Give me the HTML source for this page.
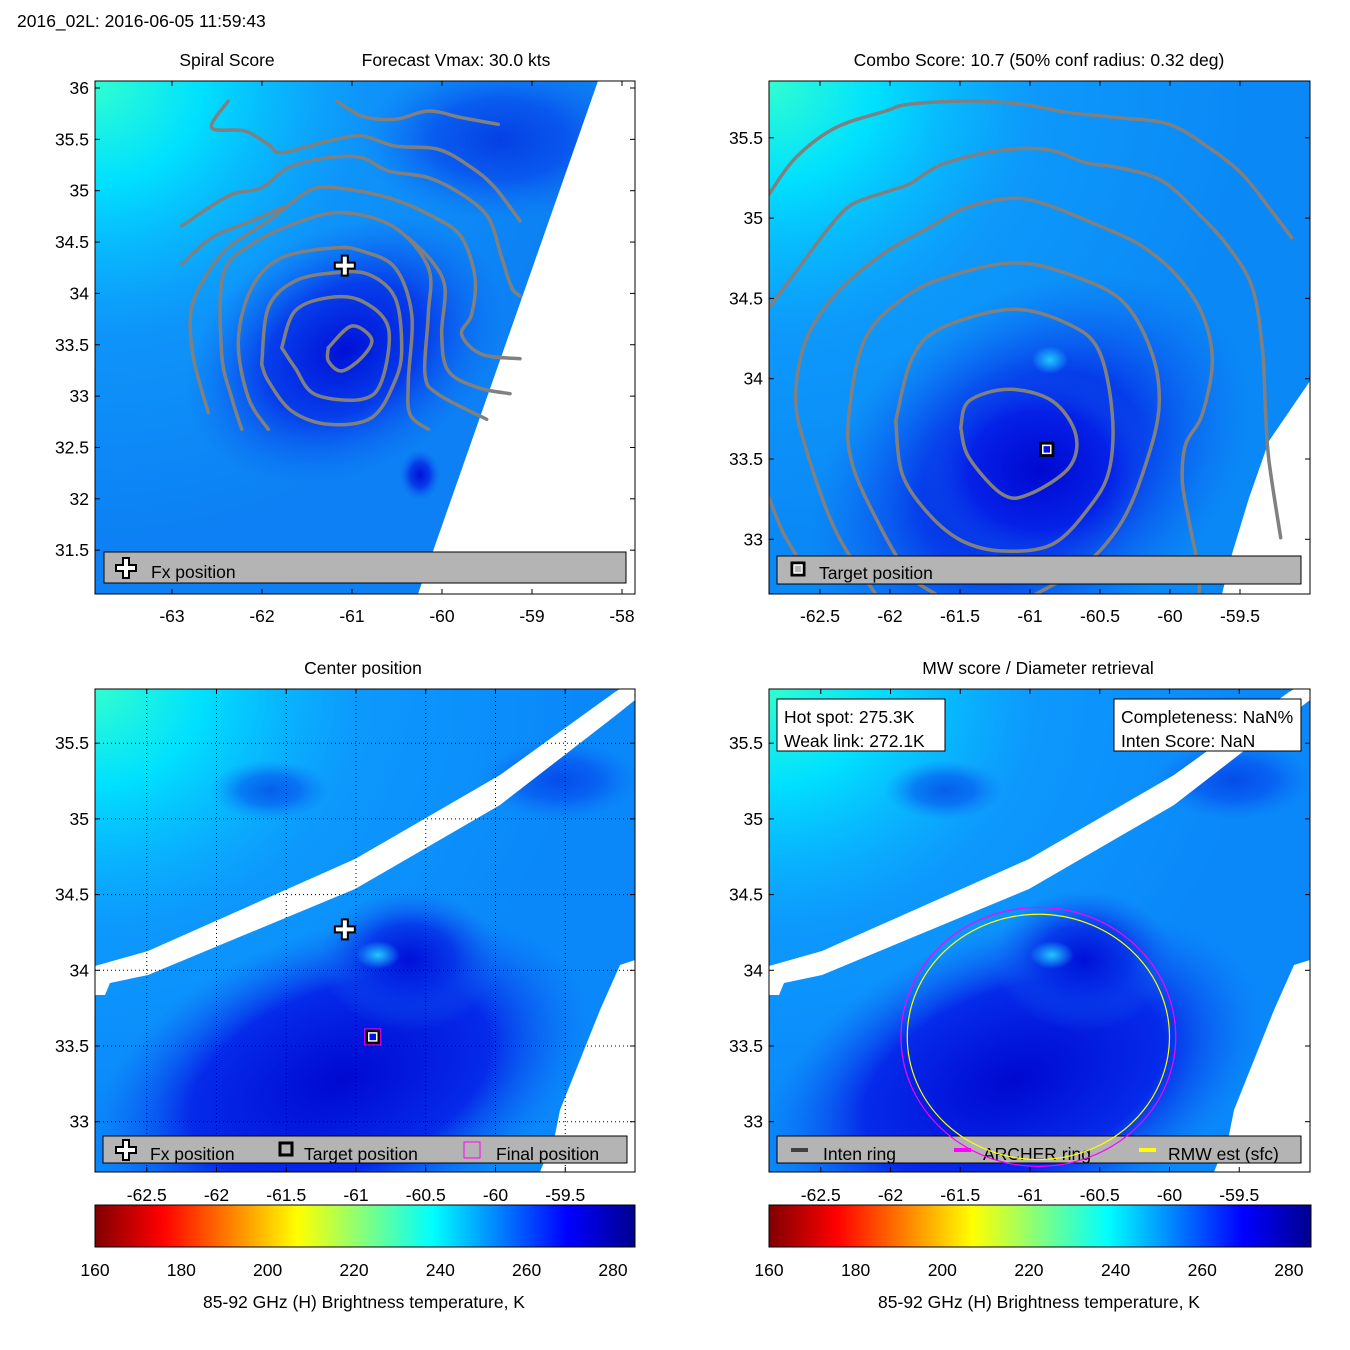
<!DOCTYPE html>
<html><head><meta charset="utf-8"><style>
body{margin:0;background:#fff;}
svg{display:block;font-family:"Liberation Sans",sans-serif;}
text{font-size:17.5px;fill:#000;}
</style></head><body>
<svg id="s" width="1350" height="1350" viewBox="0 0 1350 1350">
<defs>
<linearGradient id="jet" x1="0" x2="1" y1="0" y2="0">
<stop offset="0" stop-color="#800000"/><stop offset="0.125" stop-color="#ff0000"/><stop offset="0.375" stop-color="#ffff00"/><stop offset="0.5" stop-color="#80ff80"/><stop offset="0.625" stop-color="#00ffff"/><stop offset="0.875" stop-color="#0000ff"/><stop offset="1" stop-color="#00008f"/>
</linearGradient>
<radialGradient id="tl1" cx="0" cy="0" r="1" gradientUnits="objectBoundingBox"><stop offset="0" stop-color="#30ffd0"/><stop offset="0.2" stop-color="#00e0ff"/><stop offset="0.5" stop-color="#10a8ff" stop-opacity="0.5"/><stop offset="0.9" stop-color="#10a8ff" stop-opacity="0"/></radialGradient>
<radialGradient id="dk1"><stop offset="0" stop-color="#0010d8"/><stop offset="0.5" stop-color="#0530e8" stop-opacity="0.85"/><stop offset="1" stop-color="#1060f0" stop-opacity="0"/></radialGradient>
<radialGradient id="dk3"><stop offset="0" stop-color="#0008d0"/><stop offset="0.6" stop-color="#0520e8" stop-opacity="0.9"/><stop offset="1" stop-color="#1060f0" stop-opacity="0"/></radialGradient>
<radialGradient id="cy"><stop offset="0" stop-color="#20c8ff"/><stop offset="1" stop-color="#20c8ff" stop-opacity="0"/></radialGradient>
<clipPath id="c1"><rect x="95" y="81" width="540" height="513"/></clipPath>
<clipPath id="c2"><rect x="769" y="81" width="541" height="513"/></clipPath>
<clipPath id="c3"><rect x="95" y="689" width="540" height="483"/></clipPath>
<clipPath id="c4"><rect x="769" y="689" width="541" height="483"/></clipPath>
</defs>
<text x="17" y="27">2016_02L: 2016-06-05 11:59:43</text>

<g clip-path="url(#c1)">
<rect x="95" y="81" width="540" height="513" fill="#0c80f4"/>
<rect x="95" y="81" width="540" height="513" fill="url(#tl1)"/>
<ellipse cx="500" cy="140" rx="140" ry="80" fill="url(#dk1)" opacity="0.6"/>
<ellipse cx="345" cy="350" rx="170" ry="120" fill="url(#dk1)" transform="rotate(-30 345 350)"/>
<ellipse cx="420" cy="475" rx="20" ry="25" fill="url(#dk1)"/>
<polygon points="598,81 635,81 635,594 418,594 432,554" fill="#fff"/>
<g id="cont1" fill="none" stroke="#808080" stroke-width="3.5" stroke-linejoin="round" stroke-linecap="round"></g>
</g>
<rect x="95" y="81" width="540" height="513" fill="none" stroke="#000" stroke-width="1"/>
<g>
<rect x="104" y="552" width="522" height="31" fill="#b4b4b4" stroke="#000"/>
<text x="151" y="578">Fx position</text>
</g>
<text x="227" y="66" text-anchor="middle">Spiral Score</text>
<text x="456" y="66" text-anchor="middle">Forecast Vmax: 30.0 kts</text>

<g clip-path="url(#c2)">
<rect x="769" y="81" width="541" height="513" fill="#0a88f6"/>
<rect x="769" y="81" width="541" height="513" fill="url(#tl1)"/>
<ellipse cx="1030" cy="470" rx="240" ry="170" fill="url(#dk1)" transform="rotate(-35 1030 470)"/>
<ellipse cx="1040" cy="470" rx="120" ry="100" fill="url(#dk3)"/>
<ellipse cx="1050" cy="360" rx="18" ry="14" fill="url(#cy)"/>
<polygon points="1310,381 1269,441 1249,498 1232,554 1222,594 1310,594" fill="#fff"/>
<g id="cont2" fill="none" stroke="#808080" stroke-width="3.5" stroke-linejoin="round" stroke-linecap="round"></g>
</g>
<rect x="769" y="81" width="541" height="513" fill="none" stroke="#000"/>
<g>
<rect x="777" y="556" width="524" height="28" fill="#b4b4b4" stroke="#000"/>
<text x="819" y="579">Target position</text>
</g>
<text x="1039" y="66" text-anchor="middle">Combo Score: 10.7  (50% conf radius: 0.32 deg)</text>

<g id="bg3" clip-path="url(#c3)">
<rect x="95" y="689" width="540" height="483" fill="#0a88fa"/>
<rect x="95" y="689" width="540" height="483" fill="url(#tl1)"/>
<ellipse cx="340" cy="1080" rx="260" ry="150" fill="url(#dk3)" transform="rotate(-20 340 1080)"/>
<ellipse cx="410" cy="960" rx="90" ry="70" fill="url(#dk1)"/>
<ellipse cx="270" cy="790" rx="60" ry="30" fill="url(#dk1)" opacity="0.5"/>
<ellipse cx="560" cy="780" rx="80" ry="40" fill="url(#dk1)" opacity="0.5"/>
<ellipse cx="378" cy="955" rx="22" ry="14" fill="url(#cy)"/>
<polygon points="95,966 148,951 355,859 500,775 615,692 635,680 635,700 615,716 500,805 355,889 148,975 110,983 105,995 95,995" fill="#fff"/>
<polygon points="635,960 620,965 600,1010 580,1060 560,1110 555,1135 540,1172 635,1172" fill="#fff"/>
</g>
<g id="bg4" clip-path="url(#c4)">
<rect x="769" y="689" width="541" height="483" fill="#0a88fa"/>
<rect x="769" y="689" width="541" height="483" fill="url(#tl1)"/>
<ellipse cx="1014" cy="1080" rx="260" ry="150" fill="url(#dk3)" transform="rotate(-20 1014 1080)"/>
<ellipse cx="1084" cy="960" rx="90" ry="70" fill="url(#dk1)"/>
<ellipse cx="944" cy="790" rx="60" ry="30" fill="url(#dk1)" opacity="0.5"/>
<ellipse cx="1234" cy="780" rx="80" ry="40" fill="url(#dk1)" opacity="0.5"/>
<ellipse cx="1052" cy="955" rx="22" ry="14" fill="url(#cy)"/>
<polygon points="769,966 822,951 1029,859 1174,775 1289,692 1310,680 1310,700 1289,716 1174,805 1029,889 822,975 784,983 779,995 769,995" fill="#fff"/>
<polygon points="1310,960 1294,965 1274,1010 1254,1060 1234,1110 1229,1135 1214,1172 1310,1172" fill="#fff"/>
</g>
<g id="grid3" clip-path="url(#c3)" stroke="#000" stroke-width="1" stroke-dasharray="1,3"></g>
<rect x="95" y="689" width="540" height="483" fill="none" stroke="#000"/>
<rect x="769" y="689" width="541" height="483" fill="none" stroke="#000"/>
<text x="363" y="674" text-anchor="middle">Center position</text>
<text x="1038" y="674" text-anchor="middle">MW score / Diameter retrieval</text>

<g>
<rect x="103" y="1136" width="524" height="27" fill="#b4b4b4" stroke="#000"/>
<text x="150" y="1160">Fx position</text>
<rect x="280" y="1143" width="12" height="12" fill="#b4b4b4" stroke="#000" stroke-width="3"/>
<text x="304" y="1160">Target position</text>
<rect x="464" y="1142" width="16" height="16" fill="none" stroke="#ff00ff" stroke-width="1"/>
<text x="496" y="1160">Final position</text>
</g>
<g>
<rect x="777" y="1136" width="524" height="27" fill="#b4b4b4" stroke="#000"/>
<rect x="791" y="1148" width="17" height="4" fill="#404040"/>
<text x="823" y="1160">Inten ring</text>
<rect x="954" y="1148" width="17" height="4" fill="#ff00ff"/>
<text x="983" y="1160">ARCHER ring</text>
<rect x="1139" y="1148" width="17" height="4" fill="#ffff00"/>
<text x="1168" y="1160">RMW est (sfc)</text>
</g>
<g id="rings" fill="none"></g>
<g>
<rect x="777" y="699" width="168" height="52" fill="#fff" stroke="#000"/>
<text x="784" y="723">Hot spot: 275.3K</text>
<text x="784" y="747">Weak link: 272.1K</text>
</g>
<g>
<rect x="1114" y="699" width="187" height="52" fill="#fff" stroke="#000"/>
<text x="1121" y="723">Completeness: NaN%</text>
<text x="1121" y="747">Inten Score: NaN</text>
</g>

<g id="markers"></g>
<g id="ticks" stroke="#000" stroke-width="1"></g>
<g id="labels"></g>

<rect x="95" y="1205" width="540" height="42" fill="url(#jet)" stroke="#000"/>
<rect x="769" y="1205" width="542" height="42" fill="url(#jet)" stroke="#000"/>
<text x="364" y="1308" text-anchor="middle">85-92 GHz (H) Brightness temperature, K</text>
<text x="1039" y="1308" text-anchor="middle">85-92 GHz (H) Brightness temperature, K</text>
</svg>
<script>
const NS='http://www.w3.org/2000/svg';
const p1xTicks=[-63,-62,-61,-60,-59,-58];
const p1yTicks=[36,35.5,35,34.5,34,33.5,33,32.5,32,31.5];
const p2xTicks=[-62.5,-62,-61.5,-61,-60.5,-60,-59.5];
const p2yTicks=[35.5,35,34.5,34,33.5,33];
const p34yTicks=[35.5,35,34.5,34,33.5,33];
const cbTicks=[160,180,200,220,240,260,280];
const cbRange=[160,285.1];
const fxPos=[-61.08,34.27];
const targetPos=[-60.88,33.56];
const finalPos=[-60.88,33.56];
const ringCenter=[-60.94,33.56];
const archerRadius=[0.985,0.855];
const rmwRadius=[0.94,0.81];
const hotWeak=[275.3,272.1];

function mk(tag,attrs,parent){const e=document.createElementNS(NS,tag);for(const k in attrs)e.setAttribute(k,attrs[k]);(parent||document.getElementById('s')).appendChild(e);return e;}
const P1={x:v=>172+(v+63)*90,y:v=>88+(36-v)*102.7,x0:95,x1:635,y0:81,y1:594};
const P2={x:v=>1030+(v+61)*140,y:v=>459-(v-33.5)*160.6,x0:769,x1:1310,y0:81,y1:594};
const P3={x:v=>356+(v+61)*139.5,y:v=>1046-(v-33.5)*151.4,x0:95,x1:635,y0:689,y1:1172};
const P4={x:v=>1030+(v+61)*139.5,y:v=>1046-(v-33.5)*151.4,x0:769,x1:1310,y0:689,y1:1172};
const tk=document.getElementById('ticks'),lb=document.getElementById('labels');
function axes(P,xt,yt,xlabY){
  xt.forEach(v=>{const x=P.x(v);
    let l=mk('line',{x1:x,x2:x,y1:P.y1,y2:P.y1-5},tk);
    mk('line',{x1:x,x2:x,y1:P.y0,y2:P.y0+5},tk);
    const t=mk('text',{x:x,y:xlabY,'text-anchor':'middle'},lb);t.textContent=v;
    });
  yt.forEach(v=>{const y=P.y(v);
    mk('line',{x1:P.x0,x2:P.x0+5,y1:y,y2:y},tk);mk('line',{x1:P.x1,x2:P.x1-5,y1:y,y2:y},tk);
    const t=mk('text',{x:P.x0-6,y:y+6,'text-anchor':'end'},lb);t.textContent=v;
    });
}
axes(P1,p1xTicks,p1yTicks,622);
axes(P2,p2xTicks,p2yTicks,622);
axes(P3,p2xTicks,p34yTicks,1201);
axes(P4,p2xTicks,p34yTicks,1201);
const g3=document.getElementById('grid3');
p2xTicks.forEach(v=>mk('line',{x1:P3.x(v),x2:P3.x(v),y1:689,y2:1172},g3));
p34yTicks.forEach(v=>mk('line',{x1:95,x2:635,y1:P3.y(v),y2:P3.y(v)},g3));
[[95,635],[769,1311]].forEach(([a,b])=>{cbTicks.forEach(v=>{const x=a+(v-cbRange[0])/(cbRange[1]-cbRange[0])*(b-a);
  mk('line',{x1:x,x2:x,y1:1205,y2:1210},tk);mk('line',{x1:x,x2:x,y1:1247,y2:1242},tk);
  const t=mk('text',{x:x,y:1276,'text-anchor':'middle'},lb);t.textContent=v;
  });});
function smooth(P){let d='M'+P[0][0].toFixed(1)+','+P[0][1].toFixed(1);
 for(let i=0;i<P.length-1;i++){const p0=P[Math.max(i-1,0)],p1=P[i],p2=P[i+1],p3=P[Math.min(i+2,P.length-1)];
  d+='C'+(p1[0]+(p2[0]-p0[0])/6).toFixed(1)+','+(p1[1]+(p2[1]-p0[1])/6).toFixed(1)+' '+(p2[0]-(p3[0]-p1[0])/6).toFixed(1)+','+(p2[1]-(p3[1]-p1[1])/6).toFixed(1)+' '+p2[0].toFixed(1)+','+p2[1].toFixed(1);}
 return d;}
function cont(id,ox,oy,list){const g=document.getElementById(id);list.forEach(pts=>{const P=[];for(let i=0;i<pts.length;i+=2)P.push([ox+pts[i]/3,oy+pts[i+1]/3]);
 const p=mk('path',{d:smooth(P)},g);});}
cont('cont1',95,81,[
[700,800,770,735,830,775,800,830,740,870,700,840,700,800],
[560,800,600,690,700,650,800,660,880,740,860,900,800,955,660,940,600,860,560,800],
[500,850,520,680,600,600,720,575,820,580,900,650,920,800,900,900,830,1010,700,1030,590,990,520,900,500,850],
[520,1045,460,950,430,780,470,620,560,530,720,500,800,510,900,560,950,700,940,900,945,1000,1000,1045],
[440,1045,410,950,380,820,385,580,470,490,620,420,750,395,900,440,1000,560,1000,700,990,880,1030,940,1175,1015],
[340,995,295,830,288,690,330,590,400,500,520,420,640,330,720,320,880,350,1020,410,1100,470,1140,590,1130,700,1100,760,1160,820,1275,833],
[1245,938,1150,920,1060,870,1040,760,1050,620,1010,540,940,470],
[260,550,350,470,470,420,560,380],
[260,435,400,345,500,320,580,260,700,230,800,230,880,270,1000,290,1100,340,1180,410,1220,530,1250,620,1275,645],
[400,60,350,140,450,150,520,190,560,215,700,180,800,165,900,195,1030,205,1130,260,1200,320,1275,420],
[725,60,800,105,900,115,1000,90,1100,110,1210,130]]);
cont('cont2',769,81,[
[575,1040,600,960,720,925,850,960,920,1060,900,1160,780,1240,700,1240,600,1130,575,1040],
[380,1020,430,830,520,740,730,685,900,730,990,810,1030,1000,1020,1170,960,1280,850,1390,700,1410,580,1380,480,1300,400,1180,380,1020],
[500,1540,420,1480,330,1330,250,1150,240,1000,290,770,420,640,560,580,740,545,900,580,1060,660,1150,820,1170,980,1130,1150,1060,1320,950,1450,800,1540],
[320,1540,200,1350,110,1100,80,950,110,780,200,640,340,520,480,440,590,380,730,352,830,370,980,430,1110,490,1220,580,1300,700,1330,840,1300,1000,1250,1090,1240,1200,1260,1320,1290,1470,1290,1540],
[0,680,90,560,180,440,250,370,360,330,420,310,520,250,680,210,830,205,950,245,1050,260,1180,300,1290,400,1380,500,1450,620,1480,800,1490,1000,1500,1140,1535,1370],
[0,340,80,230,200,140,350,90,420,70,600,60,760,70,900,95,1050,110,1200,130,1320,200,1420,280,1500,380,1568,470],
[0,1250,40,1350,80,1420]]);
const rg=document.getElementById('rings');
let e=mk('ellipse',{cx:P4.x(ringCenter[0]),cy:P4.y(ringCenter[1]),rx:archerRadius[0]*139.5,ry:archerRadius[1]*151.4,stroke:'#ff00ff','stroke-width':1.2},rg);

e=mk('ellipse',{cx:P4.x(ringCenter[0]),cy:P4.y(ringCenter[1]),rx:rmwRadius[0]*139.5,ry:rmwRadius[1]*151.4,stroke:'#ffff00','stroke-width':1.2},rg);

const mg=document.getElementById('markers');
function cross(x,y){const d=`M${x-3},${y-10}h6v7h7v6h-7v7h-6v-7h-7v-6h7z`;const p=mk('path',{d:d,fill:'#fff',stroke:'#000','stroke-width':2},mg);
 }
function square(x,y,fill){const r=mk('rect',{x:x-6,y:y-6,width:12,height:12,fill:fill,stroke:'#000','stroke-width':3},mg);
 
 mk('rect',{x:x-4,y:y-4,width:8,height:8,fill:'none',stroke:'#fff','stroke-width':1.5},mg);}
cross(P1.x(fxPos[0]),P1.y(fxPos[1]));
cross(P3.x(fxPos[0]),P3.y(fxPos[1]));
cross(126,568);cross(126,1150);
square(P2.x(targetPos[0]),P2.y(targetPos[1]),'#0010e0');
square(P3.x(targetPos[0]),P3.y(targetPos[1]),'#0010e0');
square(798,569,'#b4b4b4');
let f=mk('rect',{x:P3.x(finalPos[0])-8,y:P3.y(finalPos[1])-8,width:16,height:16,fill:'none',stroke:'#ff00ff','stroke-width':1},mg);

const cbx=v=>769+(v-cbRange[0])/(cbRange[1]-cbRange[0])*542;
let c=mk('circle',{cx:cbx(hotWeak[1])-5,cy:1226,r:5,fill:'none',stroke:'#000','stroke-width':3},mg);

c=mk('circle',{cx:cbx(hotWeak[0])-5,cy:1226,r:5,fill:'none',stroke:'#fff','stroke-width':3},mg);

</script>
</body></html>
